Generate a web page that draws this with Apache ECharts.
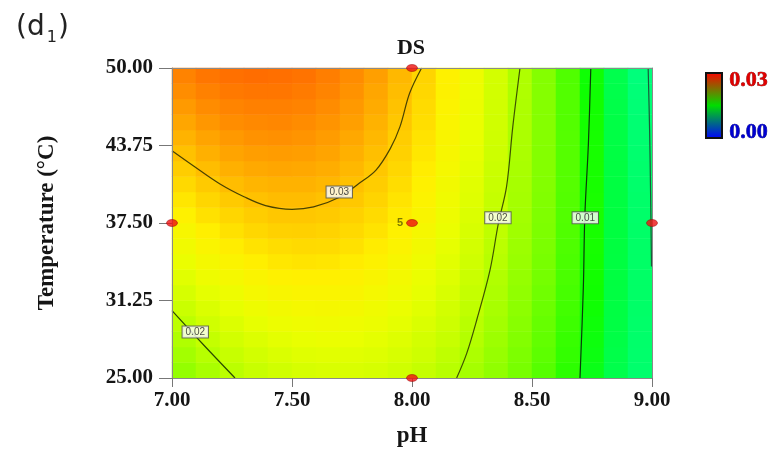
<!DOCTYPE html>
<html><head><meta charset="utf-8">
<script src="https://cdn.jsdelivr.net/npm/echarts@6/dist/echarts.min.js"></script>
<style>html,body{margin:0;padding:0;background:#fff}#c{width:783px;height:459px}</style>
</head><body><div id="c"></div>
<script>
// cell centres of the 20 x 20 colour grid
const phCells = [7.05,7.15,7.25,7.35,7.45,7.55,7.65,7.75,7.85,7.95,8.05,8.15,8.25,8.35,8.45,8.55,8.65,8.75,8.85,8.95];
const tempCells = [25.625,26.875,28.125,29.375,30.625,31.875,33.125,34.375,35.625,36.875,38.125,39.375,40.625,41.875,43.125,44.375,45.625,46.875,48.125,49.375];
// DS value of every cell, rows from 25 °C (bottom) to 50 °C (top), columns pH 7 -> 9
const dsRows = [
[.0171,.0187,.0200,.0210,.0217,.0222,.0225,.0225,.0222,.0216,.0208,.0198,.0184,.0169,.0150,.0129,.0105,.0079,.0050,.0019],
[.0182,.0197,.0209,.0219,.0226,.0231,.0233,.0232,.0229,.0223,.0215,.0203,.0190,.0173,.0154,.0133,.0109,.0082,.0052,.0020],
[.0192,.0207,.0219,.0228,.0235,.0239,.0241,.0240,.0236,.0229,.0220,.0209,.0195,.0178,.0158,.0136,.0111,.0084,.0054,.0021],
[.0202,.0217,.0228,.0237,.0244,.0247,.0248,.0247,.0243,.0236,.0226,.0214,.0199,.0182,.0162,.0139,.0114,.0086,.0056,.0022],
[.0212,.0226,.0237,.0246,.0252,.0255,.0256,.0254,.0249,.0242,.0232,.0219,.0204,.0186,.0166,.0142,.0117,.0088,.0057,.0023],
[.0222,.0236,.0246,.0255,.0260,.0263,.0263,.0261,.0255,.0248,.0237,.0224,.0208,.0190,.0169,.0145,.0119,.0090,.0058,.0024],
[.0232,.0245,.0255,.0263,.0268,.0270,.0270,.0267,.0262,.0253,.0242,.0229,.0212,.0193,.0172,.0148,.0121,.0091,.0059,.0024],
[.0241,.0254,.0264,.0271,.0276,.0278,.0277,.0273,.0267,.0259,.0247,.0233,.0216,.0197,.0175,.0150,.0122,.0092,.0059,.0024],
[.0250,.0263,.0272,.0279,.0283,.0285,.0284,.0280,.0273,.0264,.0252,.0237,.0220,.0200,.0177,.0152,.0124,.0093,.0060,.0024],
[.0259,.0271,.0280,.0287,.0291,.0292,.0290,.0286,.0279,.0269,.0256,.0241,.0223,.0203,.0180,.0154,.0125,.0094,.0060,.0023],
[.0268,.0280,.0288,.0294,.0298,.0298,.0296,.0291,.0284,.0274,.0261,.0245,.0227,.0206,.0182,.0155,.0126,.0094,.0060,.0022],
[.0277,.0288,.0296,.0302,.0305,.0305,.0302,.0297,.0289,.0278,.0265,.0249,.0230,.0208,.0184,.0157,.0127,.0095,.0059,.0022],
[.0286,.0296,.0304,.0309,.0311,.0311,.0308,.0302,.0294,.0283,.0269,.0252,.0232,.0210,.0185,.0158,.0128,.0094,.0059,.0020],
[.0294,.0304,.0312,.0316,.0318,.0317,.0314,.0307,.0298,.0287,.0272,.0255,.0235,.0212,.0187,.0159,.0128,.0094,.0058,.0019],
[.0302,.0312,.0319,.0323,.0324,.0323,.0319,.0312,.0303,.0291,.0276,.0258,.0237,.0214,.0188,.0159,.0128,.0094,.0057,.0017],
[.0310,.0319,.0326,.0330,.0331,.0329,.0324,.0317,.0307,.0294,.0279,.0261,.0239,.0216,.0189,.0160,.0128,.0093,.0055,.0015],
[.0318,.0327,.0333,.0336,.0337,.0334,.0329,.0322,.0311,.0298,.0282,.0263,.0241,.0217,.0190,.0160,.0127,.0092,.0054,.0013],
[.0325,.0334,.0339,.0342,.0342,.0340,.0334,.0326,.0315,.0301,.0284,.0265,.0243,.0218,.0190,.0160,.0127,.0091,.0052,.0010],
[.0333,.0341,.0346,.0348,.0348,.0345,.0339,.0330,.0318,.0304,.0287,.0267,.0244,.0219,.0191,.0160,.0126,.0089,.0050,.0008],
[.0340,.0348,.0352,.0354,.0353,.0350,.0343,.0334,.0322,.0307,.0289,.0269,.0246,.0220,.0191,.0159,.0125,.0088,.0048,.0005]
];
// contour lines (pH, temperature)
const contour003 = [[7.00,43.33],[7.09,42.10],[7.20,40.65],[7.30,39.62],[7.39,38.9],[7.50,38.6],[7.59,38.8],[7.70,39.6],[7.78,40.7],[7.85,41.77],[7.91,43.52],[7.95,45.27],[7.99,47.96],[8.04,50.0]];
const contour002right = [[8.45,50.0],[8.42,45.27],[8.394,40.43],[8.36,37.48],[8.325,33.7],[8.27,29.7],[8.228,26.99],[8.186,25.0]];
const contour002left = [[7.00,30.43],[7.13,27.70],[7.2625,25.0]];
const contour001 = [[8.745,50.0],[8.735,43.9],[8.72,38.0],[8.714,32.36],[8.70,25.0]];
const contour000 = [[8.984,50.0],[8.99,45.0],[8.994,40.0],[8.998,34.0]];
const contourLabels = [[7.697,40.0,'0.03'],[8.358,37.92,'0.02'],[8.722,37.92,'0.01'],[7.097,28.71,'0.02']];
// design points and their replicate counts
const designPH = [7.0,8.0,8.0,8.0,9.0];
const designTemp = [37.5,50.0,37.5,25.0,37.5];
const designReps = [1,1,5,1,1];
const legendTexts = ['0.03','0.00'];

const heatData = [];
dsRows.forEach((row, j) => row.forEach((v, k) => heatData.push([k, j, v])));
const designData = designPH.map((p, i) => [p, designTemp[i], designReps[i]]);

const serif = '"Liberation Serif","Times New Roman",serif';
const chart = echarts.init(document.getElementById('c'), null, {renderer: 'canvas'});
const lineSeries = (data, color) => ({
  type: 'line', xAxisIndex: 1, yAxisIndex: 1, data, smooth: 0.35, showSymbol: false, silent: true,
  lineStyle: {color, width: 1.2}, z: 5, clip: false
});
chart.setOption({
  animation: false,
  title: [{
    text: '{a|(d}{s|1}{a|)}', left: 11, top: 5,
    textStyle: {fontWeight: 'normal', rich: {
      a: {fontSize: 28, fontWeight: 'normal', fontFamily: '"DejaVu Sans",sans-serif', color: '#222', lineHeight: 36},
      s: {fontSize: 16, fontWeight: 'normal', fontFamily: '"DejaVu Sans",sans-serif', color: '#222', lineHeight: 14, verticalAlign: 'bottom', padding: [0, 1, 0, 2]}
    }}
  }],
  grid: {left: 172, right: 131, top: 68, bottom: 81, containLabel: false},
  visualMap: {
    show: false, type: 'continuous', min: 0, max: 0.036, dimension: 2, seriesIndex: 0,
    inRange: {color: ['#00ff80','#00ff60','#00ff40','#10ff00','#48ff00','#78ff00','#a0ff00','#c8ff00','#eaff00','#fff000','#ffc400','#ff9200','#ff6400']}
  },
  xAxis: [
    {type: 'category', data: phCells, position: 'top', z: 6,
     axisLine: {show: true, lineStyle: {color: '#8a8a8a'}}, axisTick: {show: false}, axisLabel: {show: false}, splitLine: {show: false}},
    {type: 'value', min: 7, max: 9, interval: 0.5, position: 'bottom', z: 6,
     axisLine: {show: true, onZero: false, lineStyle: {color: '#8a8a8a'}},
     axisTick: {show: true, length: 9, lineStyle: {color: '#777'}},
     axisLabel: {formatter: v => v.toFixed(2), margin: 12, fontFamily: serif, fontWeight: 'bold', fontSize: 21, color: '#151515'},
     splitLine: {show: false},
     name: 'pH', nameLocation: 'middle', nameGap: 47,
     nameTextStyle: {fontFamily: serif, fontWeight: 'bold', fontSize: 23, color: '#151515'}}
  ],
  yAxis: [
    {type: 'category', data: tempCells, position: 'right', z: 6,
     axisLine: {show: true, lineStyle: {color: '#8a8a8a'}}, axisTick: {show: false}, axisLabel: {show: false}, splitLine: {show: false}},
    {type: 'value', min: 25, max: 50, interval: 6.25, position: 'left', z: 6,
     axisLine: {show: true, onZero: false, lineStyle: {color: '#8a8a8a'}},
     axisTick: {show: true, length: 13, lineStyle: {color: '#777'}},
     axisLabel: {formatter: v => v.toFixed(2), margin: 19, fontFamily: serif, fontWeight: 'bold', fontSize: 21, color: '#151515'},
     splitLine: {show: false},
     name: 'Temperature (°C)', nameLocation: 'middle', nameGap: 113, nameRotate: 90,
     nameTextStyle: {fontFamily: serif, fontWeight: 'bold', fontSize: 23, color: '#151515'}}
  ],
  graphic: [
    {type: 'text', x: 411, y: 37, style: {text: 'DS', textAlign: 'center', font: 'bold 22px ' + serif, fill: '#151515'}},
    {type: 'rect', left: 705, top: 72, shape: {width: 16, height: 65},
     style: {fill: new echarts.graphic.LinearGradient(0, 0, 0, 1, [{offset: 0, color: '#ff0000'}, {offset: 0.5, color: '#00dd00'}, {offset: 1, color: '#0000ff'}]), stroke: '#111', lineWidth: 2}},
    {type: 'text', left: 729, top: 69, style: {text: legendTexts[0], font: 'bold 22px ' + serif, fill: '#e00000', stroke: '#6a0000', lineWidth: 0.6}},
    {type: 'text', left: 729, top: 121, style: {text: legendTexts[1], font: 'bold 22px ' + serif, fill: '#0000d0', stroke: '#00006a', lineWidth: 0.6}}
  ],
  series: [
    {type: 'heatmap', xAxisIndex: 0, yAxisIndex: 0, data: heatData, silent: true, progressive: 0,
     itemStyle: {borderWidth: 0}, emphasis: {disabled: true}},
    lineSeries(contour003, '#4a4200'),
    lineSeries(contour002right, '#3e5200'),
    lineSeries(contour002left, '#2a4a00'),
    lineSeries(contour001, '#0a3a0a'),
    lineSeries(contour000, '#1a5a3a'),
    {type: 'scatter', xAxisIndex: 1, yAxisIndex: 1, data: contourLabels, symbolSize: 1, silent: true, z: 7,
     itemStyle: {color: 'rgba(0,0,0,0)'},
     label: {show: true, position: 'inside', formatter: p => p.data[2], fontFamily: '"Liberation Sans",Arial,sans-serif', fontSize: 10, color: '#222',
             backgroundColor: '#ffffff', borderColor: '#555', borderWidth: 1, padding: [1, 3, 0, 3]}},
    {type: 'scatter', xAxisIndex: 1, yAxisIndex: 1, data: designData, symbol: 'circle', symbolSize: [11, 7], clip: false, silent: true, z: 8,
     itemStyle: {color: '#ee1111', borderColor: '#990000', borderWidth: 0.6},
     label: {show: true, position: 'left', distance: 3, formatter: p => p.data[2] > 1 ? String(p.data[2]) : '',
             fontFamily: '"Liberation Sans",Arial,sans-serif', fontWeight: 'bold', fontSize: 11, color: '#5a5a00'}}
  ]
});
</script></body></html>
